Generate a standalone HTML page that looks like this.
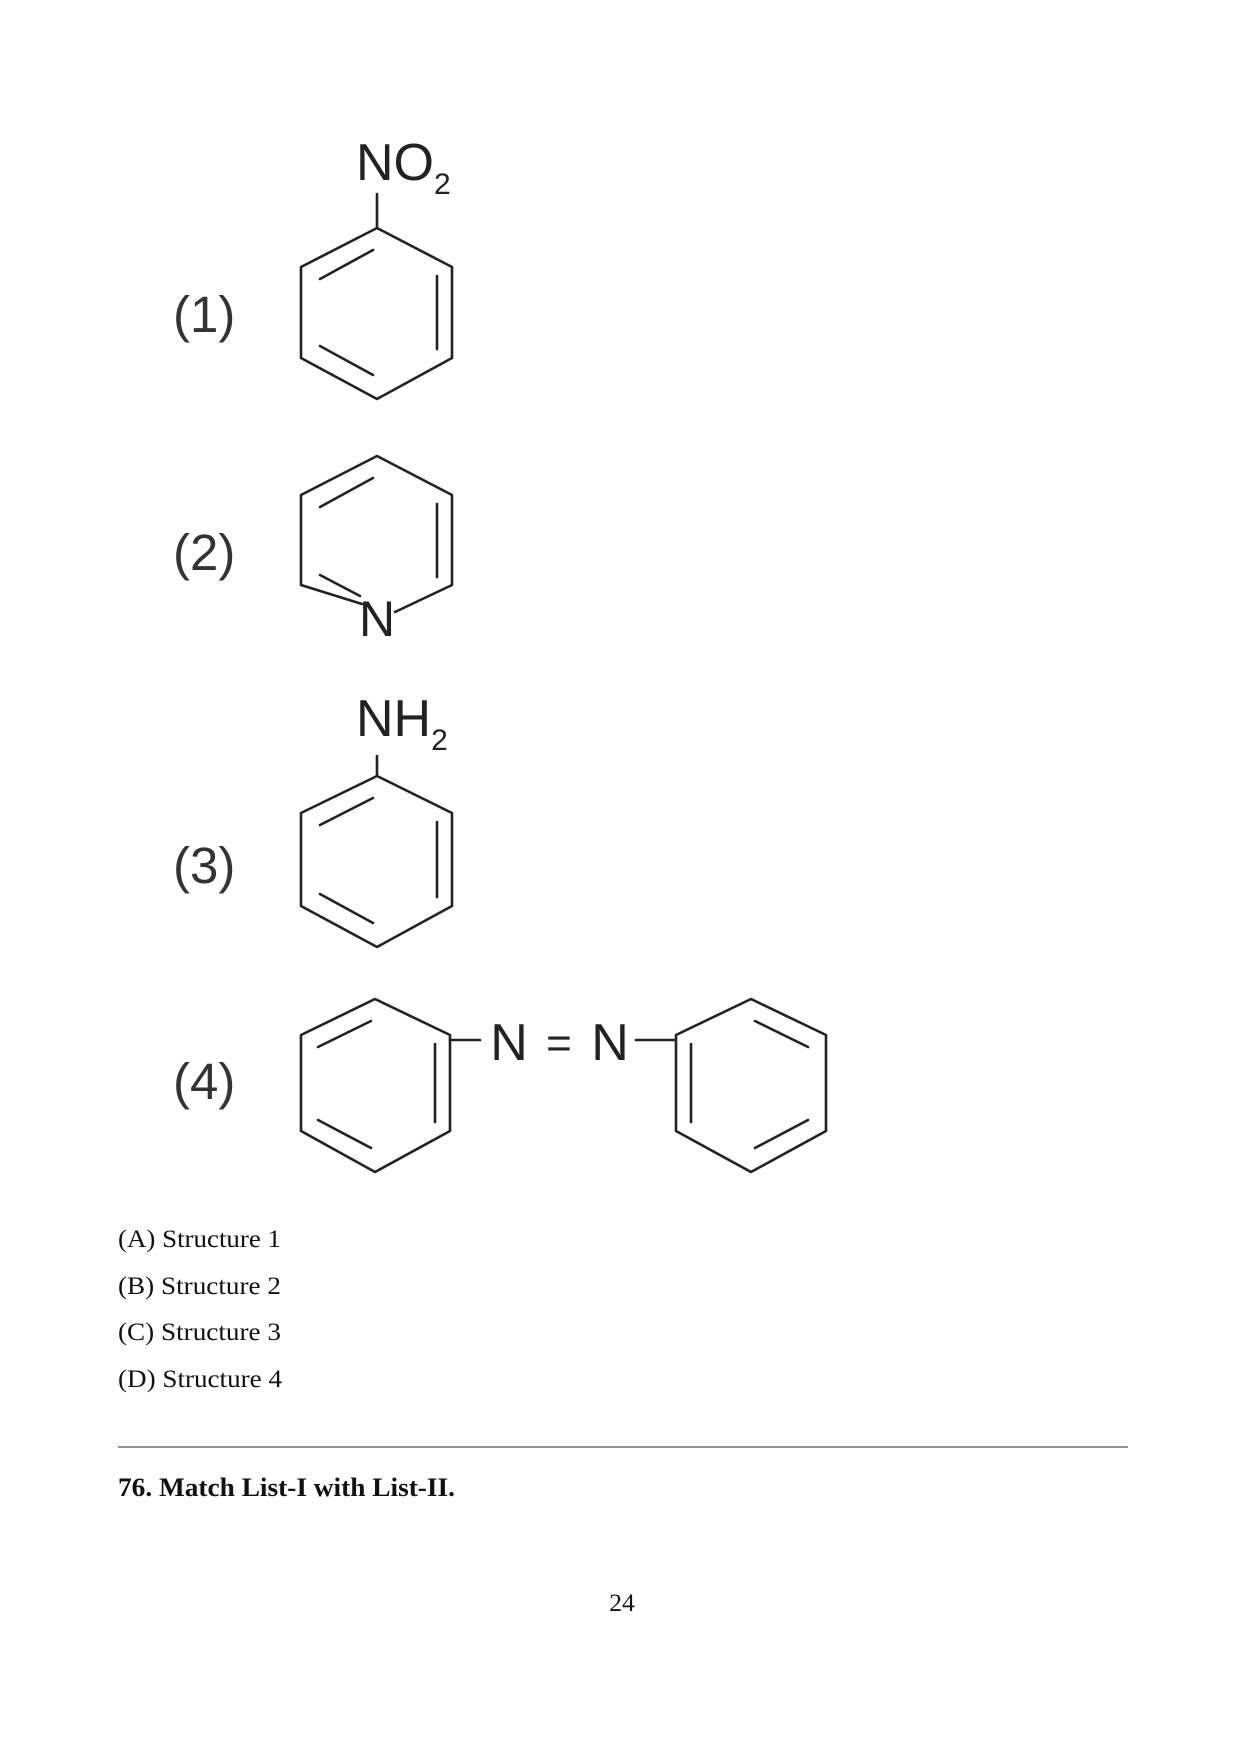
<!DOCTYPE html>
<html><head><meta charset="utf-8"><style>
html,body{margin:0;padding:0;background:#fff;}
svg{display:block;}
</style></head><body>
<svg width="1240" height="1754" viewBox="0 0 1240 1754" xmlns="http://www.w3.org/2000/svg">
<g stroke="#222" stroke-width="2.6" fill="none" stroke-linecap="round" stroke-linejoin="round">
<polygon points="377,228 452,267 452,358 377,399 301,358 301,267"/>
<line x1="320" y1="279" x2="373" y2="250"/>
<line x1="437" y1="276" x2="437" y2="349"/>
<line x1="320" y1="346" x2="373" y2="375"/>
<line x1="377" y1="228" x2="377" y2="194"/>
<polyline points="362,604 301,585 301,495 377,456 452,495 452,585 395,612"/>
<line x1="320" y1="507" x2="373" y2="478"/>
<line x1="437" y1="504" x2="437" y2="577"/>
<line x1="320" y1="575" x2="360" y2="596"/>
<polygon points="377,776 452,813 452,906 377,947 301,906 301,813"/>
<line x1="320" y1="825" x2="373" y2="798"/>
<line x1="437" y1="822" x2="437" y2="897"/>
<line x1="320" y1="894" x2="373" y2="923"/>
<line x1="377" y1="776" x2="377" y2="756"/>
<polygon points="375,999 450,1035 450,1131 375,1172 301,1131 301,1035"/>
<line x1="318" y1="1047" x2="371" y2="1021"/>
<line x1="435" y1="1044" x2="435" y2="1122"/>
<line x1="318" y1="1120" x2="371" y2="1148"/>
<line x1="450" y1="1040" x2="480" y2="1040"/>
<polygon points="751,999 826,1035 826,1131 751,1172 676,1131 676,1035"/>
<line x1="755" y1="1021" x2="808" y2="1047"/>
<line x1="691" y1="1044" x2="691" y2="1122"/>
<line x1="755" y1="1148" x2="808" y2="1120"/>
<line x1="636" y1="1040" x2="676" y2="1040"/>
</g>
<g fill="#222" font-family="Liberation Sans, sans-serif">
<text x="356" y="180" font-size="52">NO<tspan font-size="30" dy="14">2</tspan></text>
<text x="377" y="636" font-size="50" text-anchor="middle">N</text>
<text x="356" y="736" font-size="52">NH<tspan font-size="30" dy="14">2</tspan></text>
<text x="509" y="1060" font-size="52" text-anchor="middle">N</text>
<text x="559" y="1058" font-size="44" text-anchor="middle">=</text>
<text x="610" y="1060" font-size="52" text-anchor="middle">N</text>
<g font-size="51" fill="#333">
<text x="173" y="332">(1)</text>
<text x="173" y="570">(2)</text>
<text x="173" y="883">(3)</text>
<text x="173" y="1099">(4)</text>
</g>
</g>
<g font-family="Liberation Serif, serif" font-size="25.5" fill="#111">
<text x="118" y="1247" textLength="163" lengthAdjust="spacingAndGlyphs">(A) Structure 1</text>
<text x="118" y="1294" textLength="163" lengthAdjust="spacingAndGlyphs">(B) Structure 2</text>
<text x="118" y="1340" textLength="163" lengthAdjust="spacingAndGlyphs">(C) Structure 3</text>
<text x="118" y="1387" textLength="164" lengthAdjust="spacingAndGlyphs">(D) Structure 4</text>
<text x="118" y="1496" font-weight="bold" font-size="26" textLength="337" lengthAdjust="spacingAndGlyphs">76. Match List-I with List-II.</text>
<text x="622" y="1611" text-anchor="middle">24</text>
</g>
<line x1="118" y1="1447" x2="1128" y2="1447" stroke="#555" stroke-width="1.2"/>
</svg>
</body></html>
